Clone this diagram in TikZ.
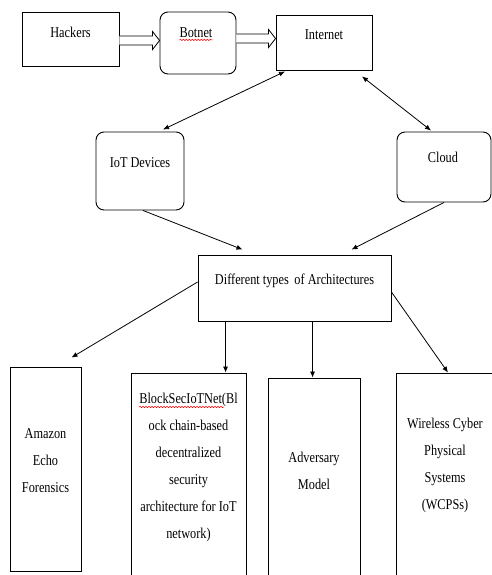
\documentclass[tikz,border=0pt]{standalone}
\usepackage{fontspec}
\setmainfont[FakeStretch=0.82]{Liberation Serif}
\usetikzlibrary{arrows.meta,decorations.pathmorphing}

\tikzset{
  box/.style={draw, line width=0.9pt, inner sep=0pt},
  roundbox/.style={box, rounded corners=8pt},
  boxtext/.style={align=center, inner sep=0pt, font=\fontsize{15}{27}\selectfont},
  link/.style={line width=0.8pt, -{Latex[length=6pt,width=5pt]}},
  duplex/.style={line width=0.8pt, {Latex[length=6pt,width=5pt]}-{Latex[length=6pt,width=5pt]}},
  hollow/.style={line width=0.8pt, fill=white, line join=miter},
  squiggle/.style={red, line width=0.5pt, decorate, decoration={snake, amplitude=0.7pt, segment length=3pt}}
}

% open-tailed block arrow from #1 to #2 (both on one horizontal line)
\newcommand{\blockarrow}[2]{%
  \draw[hollow] ([yshift=4.5pt]#1) -- ([xshift=-7pt,yshift=4.5pt]#2) -- ([xshift=-7pt,yshift=9pt]#2)
    -- (#2) -- ([xshift=-7pt,yshift=-9pt]#2) -- ([xshift=-7pt,yshift=-4.5pt]#2) -- ([yshift=-4.5pt]#1);}

\begin{document}
\begin{tikzpicture}[x=1pt, y=-1pt]
	\useasboundingbox (0,0) rectangle (492,575);
	\clip (0,0) rectangle (492,575);

	% top row
	\node[box, minimum width=97pt, minimum height=54pt] (hackers) at (70.5,39) {};
	\node[roundbox, minimum width=76pt, minimum height=62pt] (botnet) at (198,43) {};
	\node[box, minimum width=96pt, minimum height=55pt] (internet) at (324,42.5) {};

	\node[boxtext] (hackerstext) at ([yshift=-21pt]hackers.north) {Hackers};
	\node[boxtext] (botnettext) at ([xshift=-2pt,yshift=-21pt]botnet.north) {Botnet};
	\node[boxtext] (internettext) at ([yshift=-20pt]internet.north) {Internet};

	% middle row
	\node[roundbox, minimum width=88pt, minimum height=78pt] (iot) at (140,171) {};
	\node[roundbox, minimum width=94pt, minimum height=70pt] (cloud) at (444,167) {};
	\node[box, minimum width=193pt, minimum height=66pt] (arch) at (294.5,288) {};

	\node[boxtext] (iottext) at ([yshift=-31pt]iot.north) {IoT Devices};
	\node[boxtext] (cloudtext) at ([xshift=-1pt,yshift=-26pt]cloud.north) {Cloud};
	\node[boxtext] (archtext) at ([yshift=-26pt]arch.north) {Different types\, of Architectures};

	% bottom row
	\node[box, minimum width=71pt, minimum height=204pt] (amazon) at (45.5,469) {};
	\node[box, minimum width=115pt, minimum height=212pt] (block) at (188.5,479) {};
	\node[box, minimum width=92pt, minimum height=207pt] (adversary) at (314,481.5) {};
	\node[box, minimum width=104pt, minimum height=212pt] (wcps) at (448,479) {};

	\node[boxtext] (amazontext) at ([yshift=8pt]amazon.center) {Amazon\\Echo\\Forensics};
	\node[boxtext] (blocktext) at ([yshift=11.5pt]block.center) {BlockSecIoTNet(Bl\\ock chain-based\\decentralized\\security\\architecture for IoT\\network)};
	\node[boxtext] (adversarytext) at ([yshift=11pt]adversary.center) {Adversary\\Model};
	\node[boxtext] (wcpstext) at ([xshift=-3pt,yshift=14pt]wcps.center) {Wireless Cyber\\Physical\\Systems\\(WCPSs)};

	% spell-check marks
	\draw[squiggle] ([yshift=-2.5pt]botnettext.base west) -- ([yshift=-2.5pt]botnettext.base east);
	\draw[squiggle] ([yshift=-14pt]blocktext.north west) -- ++(85,0);

	% connectors
	\coordinate (hb1) at ([yshift=-1.5pt]hackers.east);
	\coordinate (hb2) at (hb1 -| botnet.west);
	\coordinate (bi1) at ([yshift=4.5pt]botnet.east);
	\coordinate (bi2) at (bi1 -| internet.west);
	\blockarrow{hb1}{hb2}
	\blockarrow{bi1}{bi2}

	\draw[duplex] ([xshift=23pt,yshift=2pt]iot.north) -- ([xshift=-39pt,yshift=-1pt]internet.south);
	\draw[duplex] ([xshift=38pt,yshift=-6pt]internet.south) -- ([xshift=-13pt,yshift=1pt]cloud.north);

	\draw[link] ([xshift=3pt]iot.south) -- ([xshift=-52pt,yshift=5pt]arch.north);
	\draw[link] (cloud.south) -- ([xshift=57pt,yshift=5pt]arch.north);

	\draw[link] ([yshift=6pt]arch.west) -- ([xshift=26pt,yshift=9pt]amazon.north);
	\draw[link] ([xshift=28pt]arch.south west) -- ([xshift=28pt]arch.south west |- block.north);
	\draw[link] ([xshift=115pt]arch.south west) -- ([xshift=115pt]arch.south west |- adversary.north);
	\draw[link] ([yshift=-4pt]arch.east) -- (wcps.north);
\end{tikzpicture}
\end{document}
